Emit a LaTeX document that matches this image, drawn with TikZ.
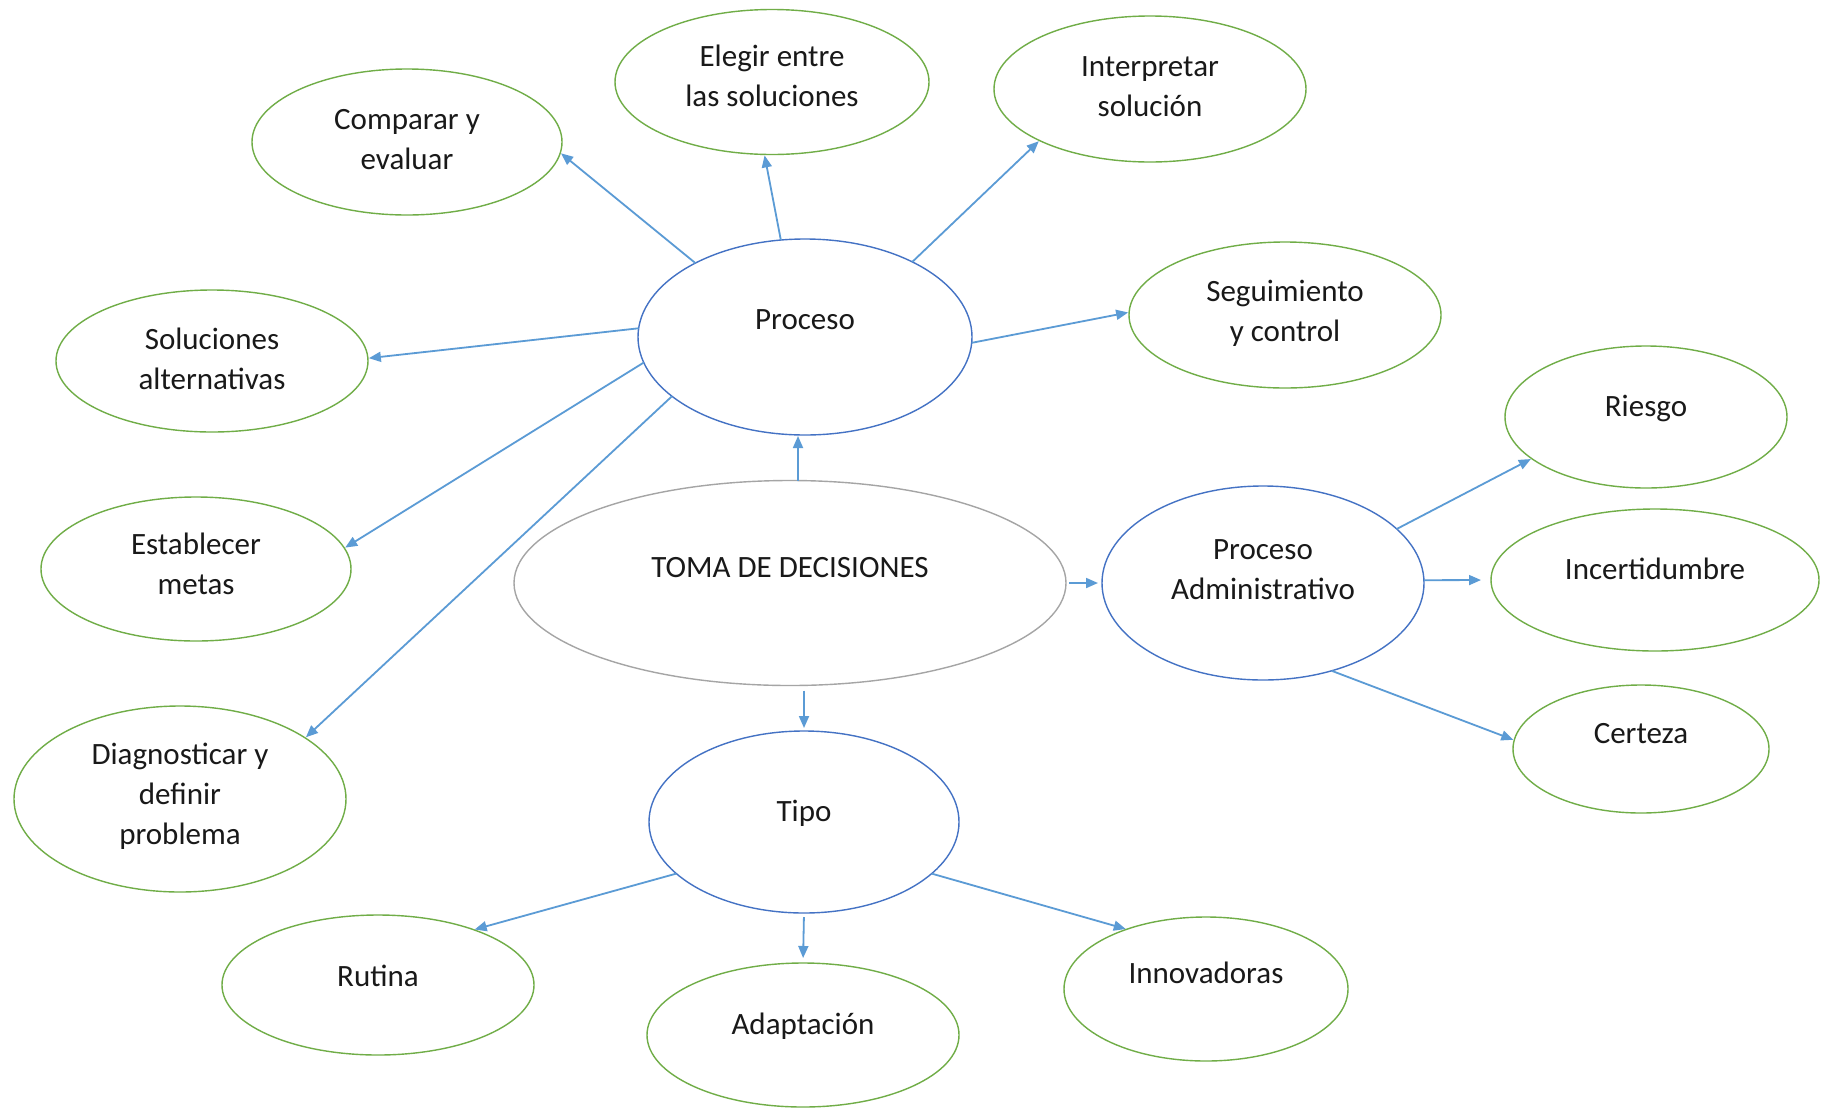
\documentclass[tikz,border=0pt]{standalone}
\usepackage{fontspec}
\setmainfont{Carlito}
\usetikzlibrary{shapes.geometric,arrows.meta}
\definecolor{ogreen}{HTML}{70AD47}
\definecolor{oblue}{HTML}{4472C4}
\definecolor{ogray}{HTML}{A5A5A5}
\definecolor{arrblue}{HTML}{5B9BD5}
\tikzset{
  ov/.style={ellipse, inner sep=0pt, outer sep=0pt, line width=1.4pt, fill=white},
  gov/.style={ov, draw=ogreen},
  bov/.style={ov, draw=oblue},
  grov/.style={ov, draw=ogray},
  lbl/.style={font=\fontsize{31}{40}\selectfont, align=center, inner sep=0pt, text=black!90},
  arr/.style={draw=arrblue, line width=1.8pt, -{Triangle[length=12pt,width=10pt]}, shorten >=1pt},
}
\begin{document}
\begin{tikzpicture}[x=1pt,y=-1pt]
\useasboundingbox[fill=white] (0,0) rectangle (1828,1109);

% ellipses
\node[gov, minimum width=310pt, minimum height=146pt] (comp) at (407,142) {};
\node[gov, minimum width=314pt, minimum height=145pt] (eleg) at (772,82) {};
\node[gov, minimum width=312pt, minimum height=146pt] (interp) at (1150,89) {};
\node[bov, minimum width=334pt, minimum height=196pt] (proc) at (805,337) {};
\node[gov, minimum width=312pt, minimum height=146pt] (segu) at (1285,315) {};
\node[gov, minimum width=312pt, minimum height=142pt] (soluc) at (212,361) {};
\node[gov, minimum width=310pt, minimum height=144pt] (estab) at (196,569) {};
\node[grov, minimum width=552pt, minimum height=205pt] (toma) at (790,583) {};
\node[bov, minimum width=322pt, minimum height=194pt] (padm) at (1263,583) {};
\node[gov, minimum width=282pt, minimum height=142pt] (ries) at (1646,417) {};
\node[gov, minimum width=328pt, minimum height=142pt] (incer) at (1655,580) {};
\node[gov, minimum width=256pt, minimum height=128pt] (cert) at (1641,749) {};
\node[gov, minimum width=332pt, minimum height=186pt] (diag) at (180,799) {};
\node[bov, minimum width=310pt, minimum height=182pt] (tipo) at (804,822) {};
\node[gov, minimum width=312pt, minimum height=140pt] (rut) at (378,985) {};
\node[gov, minimum width=312pt, minimum height=144pt] (adap) at (803,1035) {};
\node[gov, minimum width=284pt, minimum height=144pt] (innov) at (1206,989) {};

% labels
\node[lbl] (comp-t) at (407,140) {Comparar y\\evaluar};
\node[lbl] (eleg-t) at (772,76) {Elegir entre\\las soluciones};
\node[lbl] (interp-t) at (1150,87) {Interpretar\\solución};
\node[lbl] (proc-t) at (805,320) {Proceso};
\node[lbl] (segu-t) at (1285,313) {Seguimiento\\y control};
\node[lbl] (soluc-t) at (212,359) {Soluciones\\alternativas};
\node[lbl] (estab-t) at (196,564) {Establecer\\metas};
\node[lbl] (toma-t) at (790,568) {TOMA DE DECISIONES};
\node[lbl] (padm-t) at (1263,570) {Proceso\\Administrativo};
\node[lbl] (ries-t) at (1646,408) {Riesgo};
\node[lbl] (incer-t) at (1655,569) {Incertidumbre};
\node[lbl] (cert-t) at (1641,734) {Certeza};
\node[lbl] (diag-t) at (180,796) {Diagnosticar y\\definir\\problema};
\node[lbl] (tipo-t) at (804,813) {Tipo};
\node[lbl] (rut-t) at (378,976) {Rutina};
\node[lbl] (adap-t) at (803,1026) {Adaptación};
\node[lbl] (innov-t) at (1206,973) {Innovadoras};

% connectors
\draw[arr] (proc.146) -- (comp.-4);
\draw[arr] (proc.104) -- (eleg.264);
\draw[arr] (proc.35) -- (interp.205);
\draw[arr] (proc.-2) -- (segu.179);
\draw[arr] (proc.177) -- (soluc.1);
\draw[arr] (proc.189) -- (estab.8);
\draw[arr] (proc.204) -- (diag.26);
\draw[arr] ([xshift=8pt]toma.north) -- ([xshift=8pt]toma.north |- proc.south);
\draw[arr, shorten <=5pt, shorten >=3pt] (tipo.north |- toma.south) -- (tipo.north);
\draw[arr, shorten <=3pt, shorten >=4pt] (toma.east) -- (padm.west);
\draw[arr] (padm.22) -- (ries.200);
\draw[arr, shorten >=10pt] (padm.1) -- (incer.180);
\draw[arr] (padm.-52) -- (cert.176);
\draw[arr] (tipo.202) -- (rut.30);
\draw[arr, shorten <=4pt, shorten >=5pt] (tipo.south) -- (adap.north);
\draw[arr] (tipo.-22) -- (innov.143);
\end{tikzpicture}
\end{document}
